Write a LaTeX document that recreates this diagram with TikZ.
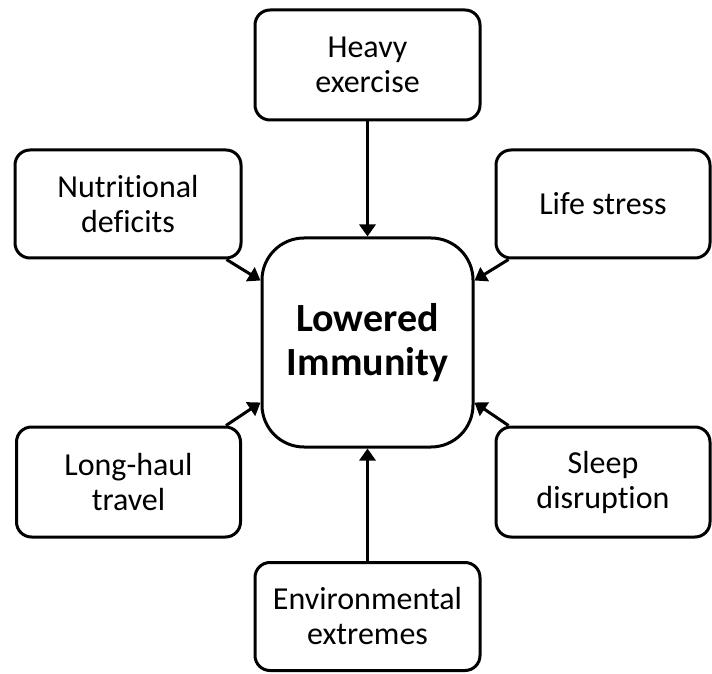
\documentclass[tikz,border=0pt]{standalone}
\usepackage{fontspec}
\setmainfont{Carlito}[Ligatures=NoCommon]
\usetikzlibrary{arrows.meta,calc}
\tikzset{
  cause/.style={draw=black, line width=3pt, rounded corners=15pt, align=center,
    inner sep=0pt, font=\fontsize{32}{35}\selectfont},
  hub/.style={draw=black, line width=3pt, rounded corners=42pt, align=center,
    inner sep=0pt, font=\fontsize{40}{44}\selectfont\bfseries,
    minimum width=211pt, minimum height=209pt},
  link/.style={line width=3pt, -{Triangle[length=12pt,width=16pt]}}
}
\begin{document}
\begin{tikzpicture}[x=1pt,y=1pt]
\useasboundingbox (0,0) rectangle (712,673);
\node[hub] (center) at (367.5,330.5) {Lowered\\Immunity};
\node[cause, minimum width=225pt, minimum height=110pt] (top) at (367.5,608) {Heavy\\exercise};
\node[cause, minimum width=226pt, minimum height=108pt] (nut) at (128,469) {Nutritional\\deficits};
\node[cause, minimum width=214pt, minimum height=108pt] (life) at (603,469) {Life stress};
\node[cause, minimum width=224pt, minimum height=110pt] (long) at (128.5,191) {Long-haul\\travel};
\node[cause, minimum width=214pt, minimum height=110pt] (sleep) at (603,191) {Sleep\\disruption};
\node[cause, minimum width=225pt, minimum height=108pt] (env) at (367.5,56.5) {Environmental\\extremes};
\draw[link] (top.south) -- (center.north);
\draw[link] (env.north) -- (center.south);
\draw[link] ([xshift=-16pt]nut.south east) -- ([yshift=62pt]center.west);
\draw[link] ([xshift=14pt]life.south west) -- ([yshift=62pt]center.east);
\draw[link] ([xshift=-16pt]long.north east) -- ([yshift=-60pt]center.west);
\draw[link] ([xshift=14pt]sleep.north west) -- ([yshift=-60pt]center.east);
\end{tikzpicture}
\end{document}
